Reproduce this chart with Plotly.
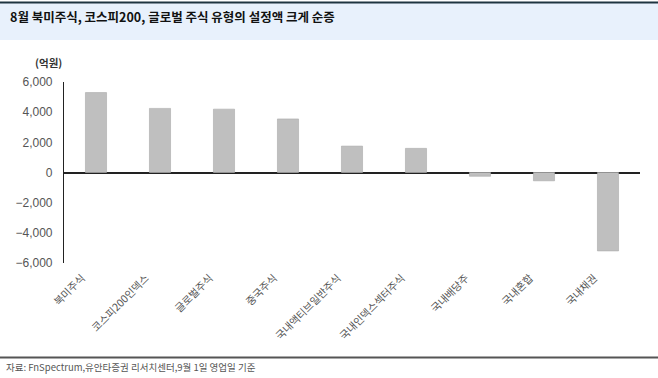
import plotly.graph_objects as go

categories = ["북미주식", "코스피200인덱스", "글로벌주식", "중국주식", "국내액티브일반주식",
              "국내인덱스섹터주식", "국내배당주", "국내혼합", "국내채권"]
values = [5300, 4250, 4200, 3550, 1750, 1600, -250, -550, -5200]
y_ticks = [-6000, -4000, -2000, 0, 2000, 4000, 6000]

title_text = "8월 북미주식, 코스피200, 글로벌 주식 유형의 설정액 크게 순증"
unit_text = "(억원)"
source_text = "자료: FnSpectrum,유안타증권 리서치센터,9월 1일 영업일 기준"

W, H = 658, 378
FONT = "Liberation Sans, Arial, Noto Sans CJK KR, sans-serif"
KFONT = "Noto Sans CJK KR, sans-serif"

fig = go.Figure(go.Bar(
    x=categories, y=values,
    marker=dict(color="#bfbfbf", line=dict(color="#a9a9a9", width=0.6)),
    width=0.33,
))

fig.update_layout(
    width=W, height=H,
    margin=dict(l=64, r=18, t=82, b=115),
    paper_bgcolor="white", plot_bgcolor="white",
    showlegend=False,
    font=dict(family=FONT, size=11, color="#444444"),
    xaxis=dict(showline=False, showgrid=False, ticks="", tickangle=-45,
               tickfont=dict(family=KFONT, size=10.5, color="#555555"),
               ticklabelstandoff=6, ticklabelshift=-14,
               range=[-0.5, 8.5]),
    yaxis=dict(range=[-6000, 6000], tickvals=y_ticks, tickformat=",",
               showgrid=False, showline=True, linecolor="#222222", linewidth=1.2,
               zeroline=True, zerolinecolor="#222222", zerolinewidth=1.5,
               ticks="", ticklen=0, ticklabelstandoff=8,
               tickfont=dict(size=12, color="#555555")),
)

fig.add_shape(type="rect", xref="paper", yref="paper", x0=-64/576, x1=1+18/576,
              y0=1 + (82-40)/181, y1=1 + (82-3)/181,
              fillcolor="#e8f1fc", line=dict(width=0), layer="below")
fig.add_shape(type="line", xref="paper", yref="paper", x0=-64/576, x1=1+18/576,
              y0=1 + (82-2.5)/181, y1=1 + (82-2.5)/181,
              line=dict(color="#1e3440", width=2))
fig.add_shape(type="line", xref="paper", yref="paper", x0=-64/576, x1=1+18/576,
              y0=-(357.5-263)/181, y1=-(357.5-263)/181,
              line=dict(color="#555555", width=2))

fig.add_annotation(text="<b>" + title_text + "</b>", xref="paper", yref="paper",
                   x=-(64-8)/576, y=1 + (82-17)/181, xanchor="left", yanchor="middle",
                   showarrow=False, font=dict(family=KFONT, size=12.5, color="#111111"))
fig.add_annotation(text="<b>" + unit_text + "</b>", xref="paper", yref="paper",
                   x=-(64-33)/576, y=1 + (82-62)/181, xanchor="left", yanchor="middle",
                   showarrow=False, font=dict(family=KFONT, size=10.5, color="#333333"))
fig.add_annotation(text=source_text, xref="paper", yref="paper",
                   x=-(64-4)/576, y=-(367-263)/181, xanchor="left", yanchor="middle",
                   showarrow=False, font=dict(family=KFONT, size=9.5, color="#555555"))

fig.write_html("out.html", config={"displayModeBar": False},
               post_script="document.body.style.margin='0';document.body.style.overflow='hidden';")
